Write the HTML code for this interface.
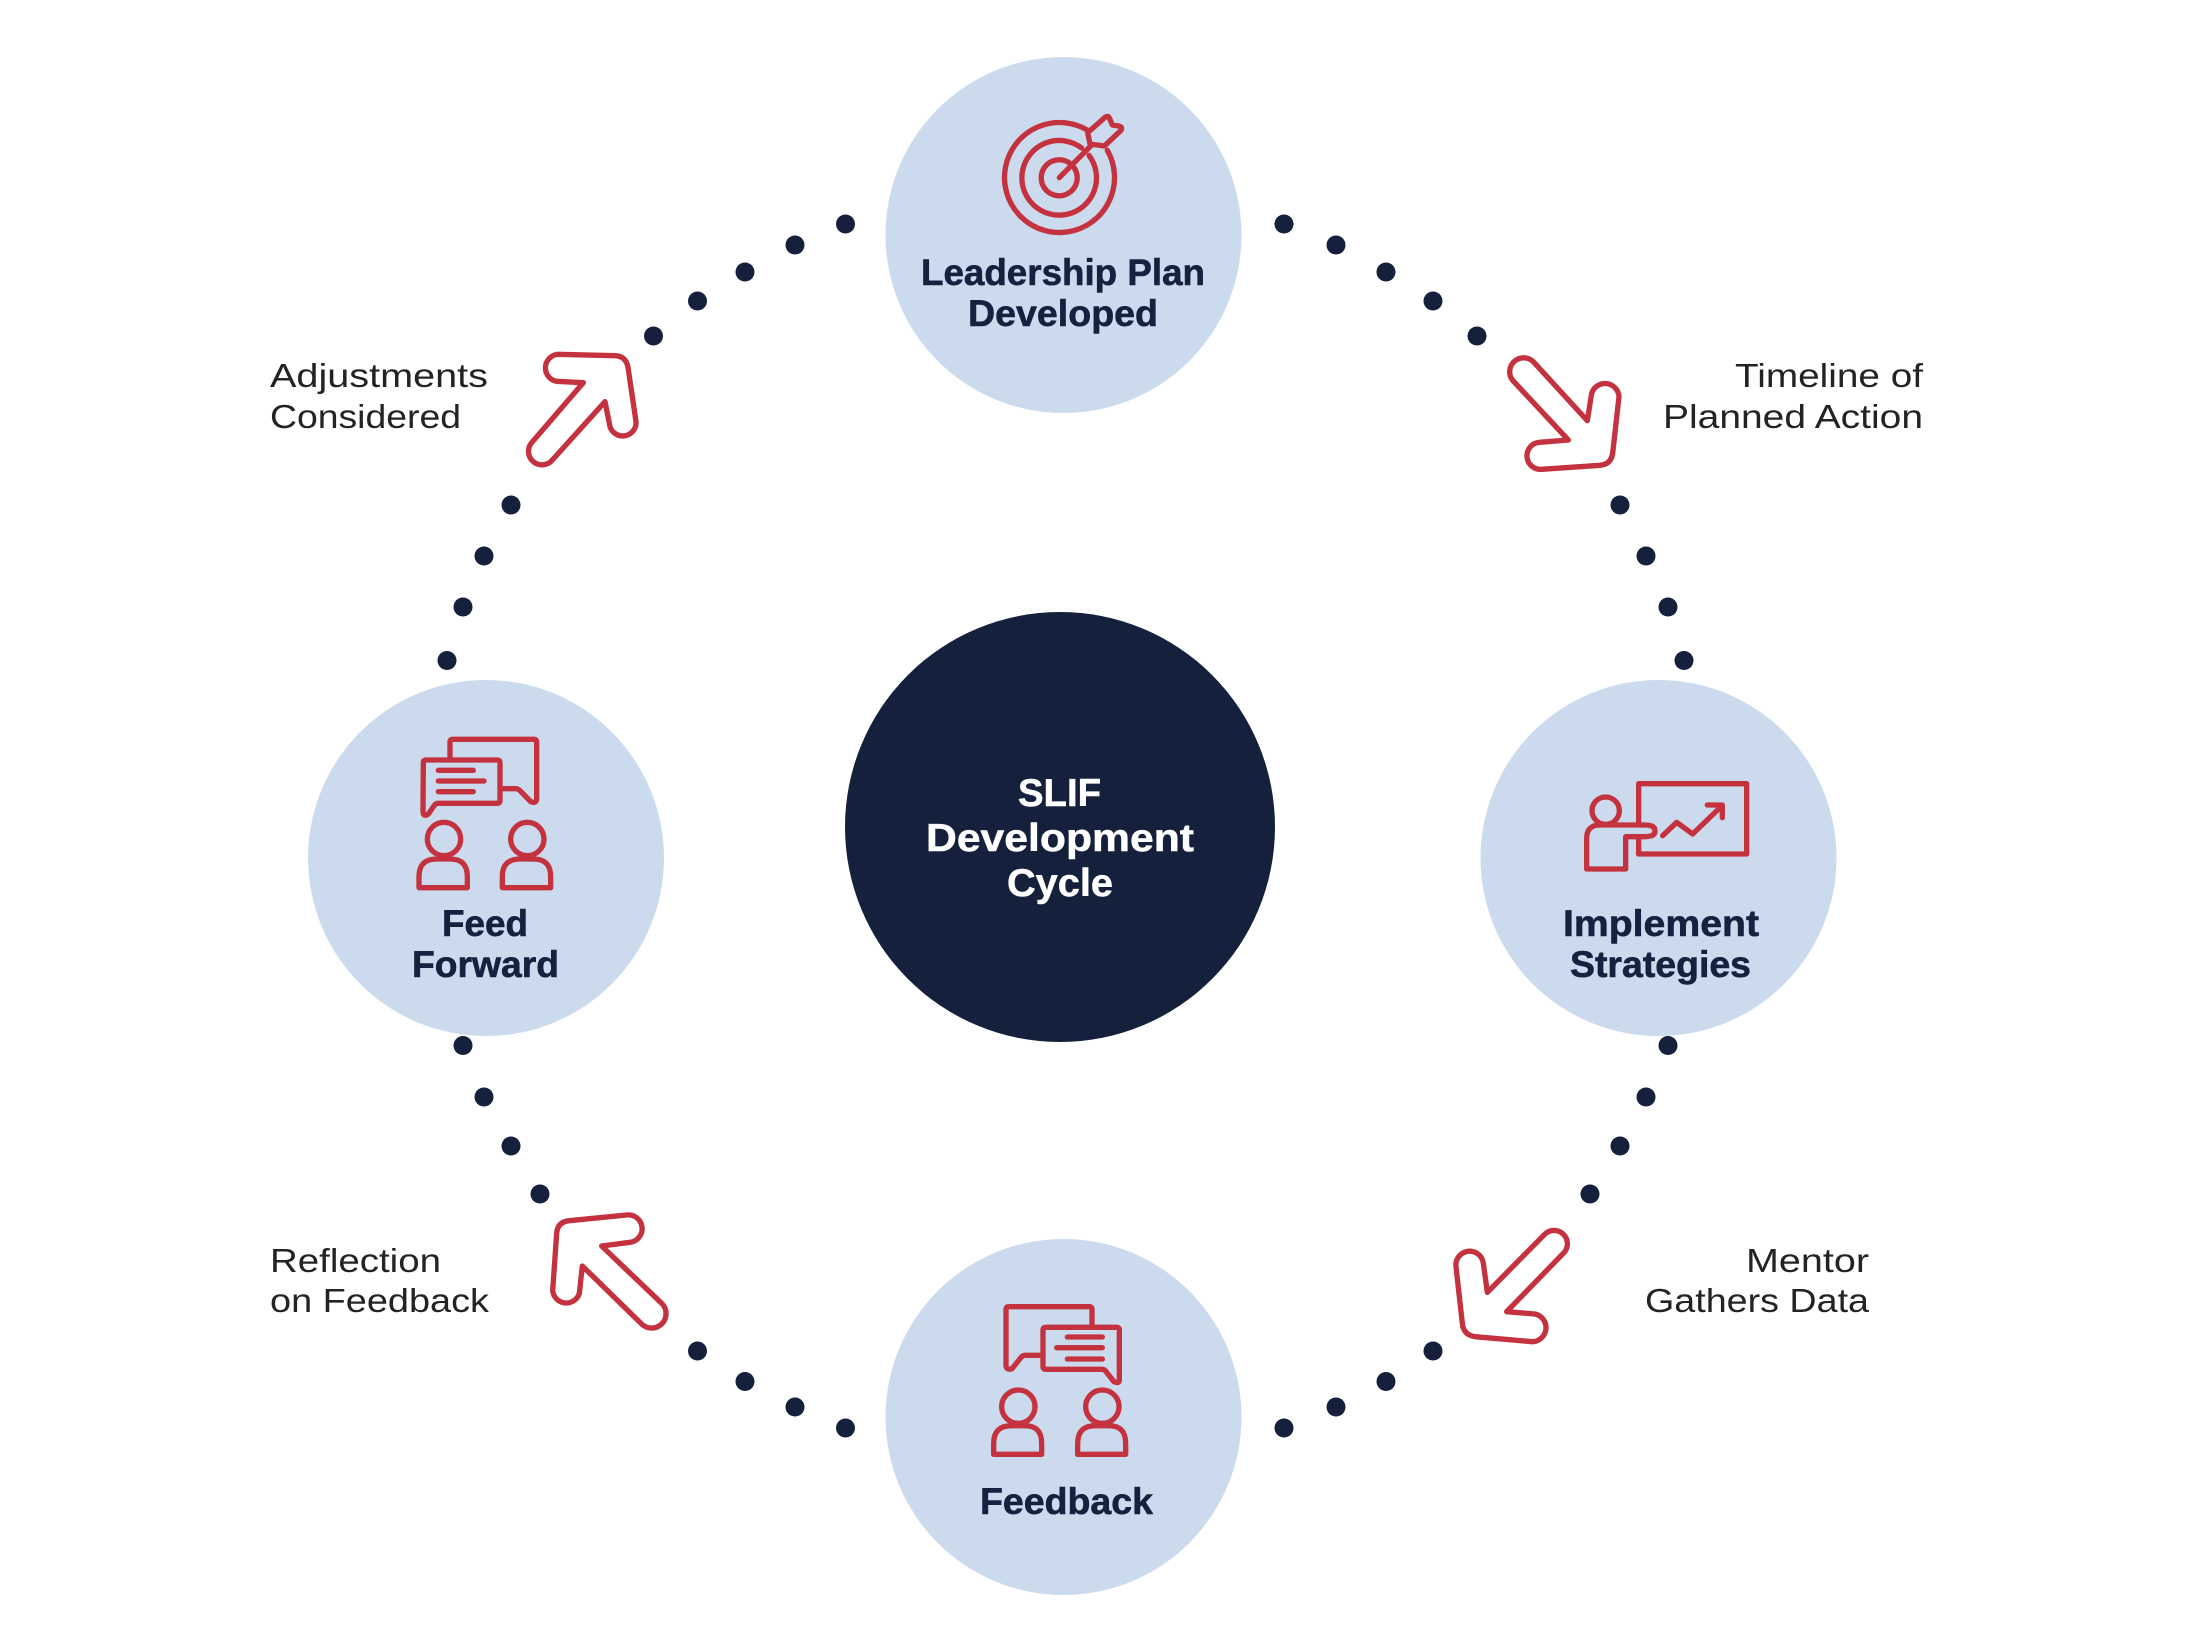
<!DOCTYPE html>
<html lang="en">
<head>
<meta charset="utf-8">
<title>SLIF Development Cycle</title>
<style>
html,body{margin:0;padding:0;background:#fff;width:2192px;height:1644px;overflow:hidden}
svg{display:block}
text{font-family:"Liberation Sans",sans-serif}
.b{font-weight:700;font-size:37px;fill:#14213f;stroke:#14213f;stroke-width:.6px}
.w{font-weight:700;font-size:39px;fill:#fff;stroke:#fff;stroke-width:.5px}
.l{font-weight:400;font-size:33px;fill:#232326}
.r{fill:none;stroke:#c4323f;stroke-width:16;stroke-linejoin:round;stroke-linecap:round}
</style>
</head>
<body>
<svg width="2192" height="1644" viewBox="0 0 2192 1644" xmlns="http://www.w3.org/2000/svg">
<rect width="2192" height="1644" fill="#fff"/>

<!-- circles -->
<circle cx="1063.5" cy="235" r="178" fill="#cbdbed"/>
<circle cx="486" cy="858" r="178" fill="#cbdbed"/>
<circle cx="1658.5" cy="858" r="178" fill="#cbdbed"/>
<circle cx="1063.5" cy="1417" r="178" fill="#cbdbed"/>
<circle cx="1060" cy="827" r="215" fill="#14203c"/>

<!-- dots -->
<g fill="#14203c">
<circle cx="845.5" cy="224" r="9.5"/><circle cx="795" cy="245" r="9.5"/><circle cx="745" cy="272" r="9.5"/><circle cx="697.5" cy="301" r="9.5"/><circle cx="653.5" cy="336" r="9.5"/>
<circle cx="511" cy="505" r="9.5"/><circle cx="484" cy="556" r="9.5"/><circle cx="463" cy="607" r="9.5"/><circle cx="447" cy="660.5" r="9.5"/>
<circle cx="1284" cy="224" r="9.5"/><circle cx="1336" cy="245" r="9.5"/><circle cx="1386" cy="272" r="9.5"/><circle cx="1433" cy="301" r="9.5"/><circle cx="1477" cy="336" r="9.5"/>
<circle cx="1620" cy="505" r="9.5"/><circle cx="1646" cy="556" r="9.5"/><circle cx="1668" cy="607" r="9.5"/><circle cx="1684" cy="660.5" r="9.5"/>
<circle cx="1668" cy="1045.5" r="9.5"/><circle cx="1646" cy="1097" r="9.5"/><circle cx="1620" cy="1146" r="9.5"/><circle cx="1590" cy="1194" r="9.5"/>
<circle cx="1433" cy="1351" r="9.5"/><circle cx="1386" cy="1381.5" r="9.5"/><circle cx="1336" cy="1407" r="9.5"/><circle cx="1284" cy="1428" r="9.5"/>
<circle cx="463" cy="1045.5" r="9.5"/><circle cx="484" cy="1097" r="9.5"/><circle cx="511" cy="1146" r="9.5"/><circle cx="540" cy="1194" r="9.5"/>
<circle cx="697.5" cy="1351" r="9.5"/><circle cx="745" cy="1381.5" r="9.5"/><circle cx="795" cy="1407" r="9.5"/><circle cx="845.5" cy="1428" r="9.5"/>
</g>

<!-- target icon -->
<g transform="translate(860,40) scale(.33333)" class="r">
<path d="M685,272 A165,165 0 1 0 742,331"/>
<path d="M665,324 A112,112 0 1 0 687,346"/>
<path d="M627,368 A54,54 0 1 0 643,384"/>
<path d="M598,413 L692,318"/>
<path d="M683,278 L735,232 Q745,225 749,236 L757,255 L776,258 Q790,262 782,272 L733,318 L690,312 Z"/>
</g>

<!-- feed forward icon -->
<g transform="translate(290,670) scale(.33333)" class="r">
<path d="M480,262 V216 Q480,208 488,208 H732 Q740,208 740,216 V385 Q740,402 722,395 L690,362 Q684,356 678,356 H636"/>
<path d="M400,278 Q400,270 408,270 H622 Q630,270 630,278 V392 Q630,400 622,400 H445 Q438,400 433,406 L415,432 Q400,442 399,425 Z"/>
<path d="M445,301 H550 M445,333 H582 M445,365 H550"/>
<circle cx="462" cy="507" r="50"/><circle cx="712" cy="507" r="50"/>
<path d="M387,653 V620 Q387,567 440,567 H480 Q532,567 532,620 V653 Z"/>
<path d="M637,653 V620 Q637,567 690,567 H730 Q782,567 782,620 V653 Z"/>
</g>

<!-- implement icon -->
<g transform="translate(1480,670) scale(.33333)" class="r">
<path d="M476,460 V341 H800 V552 H476 V502"/>
<circle cx="377" cy="422" r="41"/>
<path d="M320,597 V505 Q320,465 360,465 H495 Q525,465 525,483 Q525,500 495,500 H437 V597 Z"/>
<path d="M548,497 L590,457 L638,492 L725,408 M682,405 H727 V443"/>
</g>

<!-- feedback icon -->
<g transform="translate(880,1240) scale(.33333)" class="r">
<path d="M636,260 V208 Q636,200 628,200 H386 Q378,200 378,208 V375 Q378,392 396,386 L425,350 Q430,346 436,346 H488"/>
<path d="M497,262 H710 Q718,262 718,270 V420 Q718,432 702,425 L676,392 Q672,388 665,388 H497 Q489,388 489,380 V270 Q489,262 497,262 Z"/>
<path d="M562,291 H667 M530,323 H667 M562,357 H667"/>
<circle cx="415" cy="500" r="50"/><circle cx="667" cy="500" r="50"/>
<path d="M341,643 V610 Q341,557 395,557 H435 Q485,557 485,610 V643 Z"/>
<path d="M593,643 V610 Q593,557 647,557 H687 Q737,557 737,610 V643 Z"/>
</g>

<!-- arrows -->
<g transform="translate(500,320) scale(.33333)" class="r">
<path d="M250,188 L170,184 A41,41 0 0 1 172,103 L345,107 Q378,108 384,142 L408,305 A40,40 0 0 1 330,320 L315,245 L157,420 A40,40 0 0 1 95,368 Z"/>
</g>
<g transform="translate(1480,330) scale(.33333)" class="r">
<path d="M265,330 L97,150 A42,42 0 0 1 160,95 L322,272 L335,190 A42,42 0 0 1 417,200 L398,370 Q393,403 360,406 L185,418 A40,40 0 0 1 178,337 Z"/>
</g>
<g transform="translate(1430,1210) scale(.33333)" class="r">
<path d="M172,247 L345,72 A40,40 0 0 1 402,128 L230,305 L315,312 A42,42 0 0 1 305,395 L135,380 Q100,375 97,340 L78,170 A41,41 0 0 1 160,160 Z"/>
</g>
<g transform="translate(530,1200) scale(.33333)" class="r">
<path d="M80,100 Q83,65 118,62 L290,45 A41,41 0 0 1 300,127 L215,138 L395,310 A41,41 0 0 1 335,372 L157,198 L148,280 A41,41 0 0 1 68,272 Z"/>
</g>

<!-- node labels -->
<text class="b" x="921" y="285" textLength="284" lengthAdjust="spacingAndGlyphs">Leadership Plan</text>
<text class="b" x="968" y="326" textLength="190" lengthAdjust="spacingAndGlyphs">Developed</text>
<text class="b" x="442" y="936" textLength="86" lengthAdjust="spacingAndGlyphs">Feed</text>
<text class="b" x="412" y="977" textLength="147" lengthAdjust="spacingAndGlyphs">Forward</text>
<text class="b" x="1563" y="936" textLength="196" lengthAdjust="spacingAndGlyphs">Implement</text>
<text class="b" x="1570" y="977" textLength="181" lengthAdjust="spacingAndGlyphs">Strategies</text>
<text class="b" x="980" y="1514" textLength="173" lengthAdjust="spacingAndGlyphs">Feedback</text>

<!-- centre -->
<text class="w" x="1018" y="806" textLength="83" lengthAdjust="spacingAndGlyphs">SLIF</text>
<text class="w" x="926" y="851" textLength="268" lengthAdjust="spacingAndGlyphs">Development</text>
<text class="w" x="1007" y="896" textLength="106" lengthAdjust="spacingAndGlyphs">Cycle</text>

<!-- connector labels -->
<text class="l" x="270" y="387" textLength="218" lengthAdjust="spacingAndGlyphs">Adjustments</text>
<text class="l" x="270" y="428" textLength="191" lengthAdjust="spacingAndGlyphs">Considered</text>
<text class="l" x="1735" y="387" textLength="188" lengthAdjust="spacingAndGlyphs">Timeline of</text>
<text class="l" x="1663" y="428" textLength="260" lengthAdjust="spacingAndGlyphs">Planned Action</text>
<text class="l" x="1746" y="1272" textLength="123" lengthAdjust="spacingAndGlyphs">Mentor</text>
<text class="l" x="1645" y="1312" textLength="224" lengthAdjust="spacingAndGlyphs">Gathers Data</text>
<text class="l" x="270" y="1272" textLength="171" lengthAdjust="spacingAndGlyphs">Reflection</text>
<text class="l" x="270" y="1312" textLength="219" lengthAdjust="spacingAndGlyphs">on Feedback</text>
</svg>
</body>
</html>
